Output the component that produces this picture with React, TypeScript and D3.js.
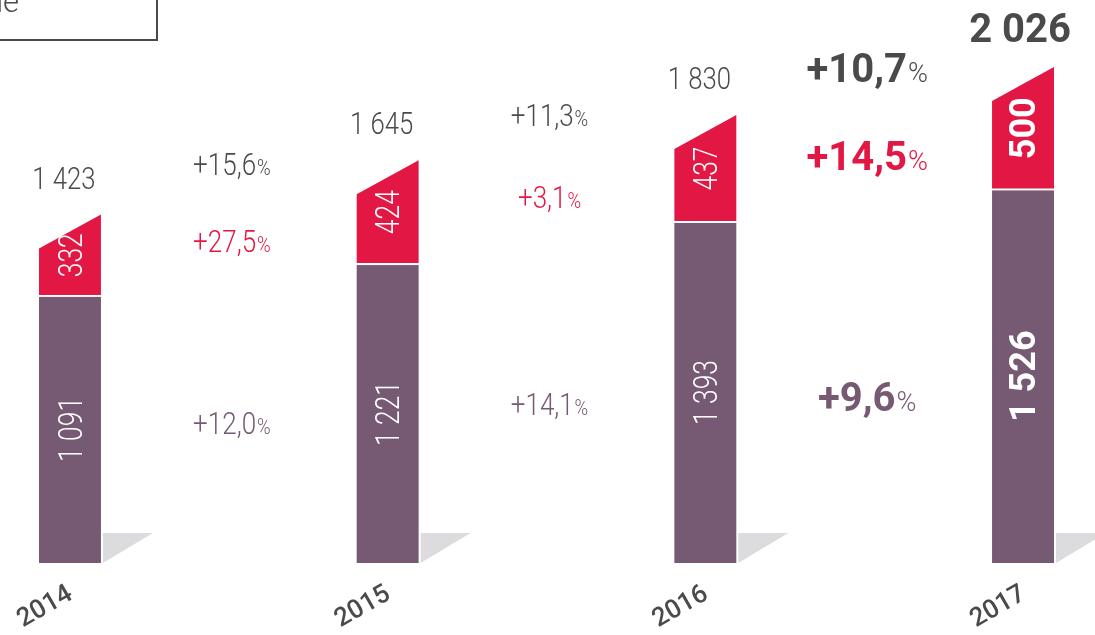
import React, { useEffect, useRef } from "react";
import * as d3 from "d3";

// headcount split by segment (purple = base, red = top)
const years = ["2014", "2015", "2016", "2017"];
const baseValues = [1091, 1221, 1393, 1526];
const topValues = [332, 424, 437, 500];

// year-over-year growth, in %
const totalGrowth = [15.6, 11.3, 10.7];
const topGrowth = [27.5, 3.1, 14.5];
const baseGrowth = [12.0, 14.1, 9.6];

const PURPLE = "#765972";
const RED = "#e21744";
const DARK = "#4a4a4d";
const SHADOW = "#dcdcde";
const FONT = "Roboto, 'Open Sans', sans-serif";

const locale = d3.formatLocale({
  decimal: ",",
  thousands: " ",
  grouping: [3],
  currency: ["", ""],
});
const fmtInt = locale.format(",d");
const fmtPct = locale.format("+.1f");

const App = () => {
  const svgRef = useRef<SVGSVGElement>(null);

  useEffect(() => {
    const svg = d3.select(svgRef.current);
    svg.selectAll("*").remove();

    const baseY = 563;
    const slant = 34;
    const totals = baseValues.map((v, i) => v + topValues[i]);
    const last = years.length - 1;

    const x = d3
      .scaleBand()
      .domain(years)
      .range([39, 1054])
      .paddingInner(0.805)
      .paddingOuter(0);
    const y = d3
      .scaleLinear()
      .domain([0, d3.max(totals) as number])
      .range([baseY, 67]);
    const bw = x.bandwidth();
    const cx = (i: number) => (x(years[i]) as number) + bw / 2;

    // text helper: condensed look via horizontal scale
    const addText = (
      px: number,
      py: number,
      str: string,
      o: { size: number; weight: number; fill: string; rotate?: number; sx?: number; central?: boolean }
    ) =>
      svg
        .append("text")
        .attr(
          "transform",
          `translate(${px},${py}) rotate(${o.rotate || 0}) scale(${o.sx || 1},1)`
        )
        .attr("text-anchor", "middle")
        .attr("dominant-baseline", o.central ? "central" : "auto")
        .attr("font-family", FONT)
        .attr("font-size", o.size)
        .attr("font-weight", o.weight)
        .attr("fill", o.fill)
        .text(str);

    // cropped title box at top left
    svg
      .append("rect")
      .attr("x", -10)
      .attr("y", -10)
      .attr("width", 167)
      .attr("height", 50)
      .attr("fill", "none")
      .attr("stroke", DARK)
      .attr("stroke-width", 2);
    svg
      .append("text")
      .attr("x", 19)
      .attr("y", 12)
      .attr("text-anchor", "end")
      .attr("font-family", FONT)
      .attr("font-size", 31)
      .attr("font-weight", 300)
      .attr("fill", DARK)
      .text("Effectifs de la Banque");

    // floor shadows
    svg
      .append("g")
      .selectAll("path")
      .data(years)
      .join("path")
      .attr("d", (d) => {
        const x1 = (x(d) as number) + bw + 2;
        return `M${x1},${baseY - 30}L${x1 + 50},${baseY - 30}L${x1},${baseY}Z`;
      })
      .attr("fill", SHADOW);

    // purple segment
    svg
      .append("g")
      .selectAll("rect")
      .data(years)
      .join("rect")
      .attr("x", (d) => x(d) as number)
      .attr("y", (d, i) => y(baseValues[i]) + 1)
      .attr("width", bw)
      .attr("height", (d, i) => baseY - y(baseValues[i]) - 1)
      .attr("fill", PURPLE);

    // red segment with slanted top
    svg
      .append("g")
      .selectAll("path")
      .data(years)
      .join("path")
      .attr("d", (d, i) => {
        const x0 = x(d) as number;
        const x1 = x0 + bw;
        const top = y(totals[i]);
        const bot = y(baseValues[i]) - 1;
        return `M${x0},${top + slant}L${x1},${top}L${x1},${bot}L${x0},${bot}Z`;
      })
      .attr("fill", RED);

    years.forEach((yr, i) => {
      const strong = i === last;
      const c = cx(i);
      // value inside segments
      const redMid = (y(totals[i]) + y(baseValues[i])) / 2;
      const purpleMid = (y(baseValues[i]) + baseY) / 2;
      const inner = strong
        ? { size: 36, weight: 700, fill: "#fff", rotate: -90, central: true }
        : { size: 33, weight: 300, fill: "#fff", rotate: -90, sx: 0.8, central: true };
      addText(c, redMid, fmtInt(topValues[i]), inner);
      addText(c, purpleMid, fmtInt(baseValues[i]), inner);

      // total on top
      if (strong) {
        addText(c - 3, y(totals[i]) - 25, fmtInt(totals[i]), { size: 40, weight: 700, fill: DARK });
      } else {
        addText(c - 6, y(totals[i]) - 26, fmtInt(totals[i]), {
          size: 31,
          weight: 300,
          fill: DARK,
          sx: 0.83,
        });
      }

      // year label
      addText(c - 26, baseY + 42, yr, {
        size: 26,
        weight: 500,
        fill: DARK,
        rotate: -30,
        central: true,
      });
    });

    // growth labels between bars (positions give the cap-height centre)
    const rows = [
      { vals: totalGrowth, fill: DARK, pos: (i: number) => (y(totals[i]) + y(totals[i + 1])) / 2 - 23 },
      {
        vals: topGrowth,
        fill: RED,
        pos: (i: number) =>
          (y(totals[i]) + y(baseValues[i]) + y(totals[i + 1]) + y(baseValues[i + 1])) / 4 + 7,
      },
      {
        vals: baseGrowth,
        fill: PURPLE,
        pos: (i: number) =>
          (y(baseValues[i]) + y(baseValues[i + 1]) + 2 * baseY) / 4 + (i === last - 1 ? 12 : 1),
      },
    ];

    rows.forEach((row) => {
      row.vals.forEach((v, i) => {
        const strong = i === last - 1;
        const size = strong ? 40 : 31;
        const gx = ((x(years[i]) as number) + bw + (x(years[i + 1]) as number)) / 2 + 3;
        const t = addText(gx, row.pos(i) + size * 0.355, fmtPct(v), {
          size,
          weight: strong ? 700 : 300,
          fill: row.fill,
          sx: strong ? 1 : 0.84,
        });
        t.append("tspan")
          .attr("font-size", strong ? 27 : 22)
          .attr("font-weight", 300)
          .attr("dx", 1)
          .text("%");
      });
    });
  }, []);

  return (
    <div style={{ position: "fixed", left: 0, top: 0 }}>
      <svg ref={svgRef} width={1095} height={635} style={{ display: "block" }}></svg>
    </div>
  );
};

export default App;
